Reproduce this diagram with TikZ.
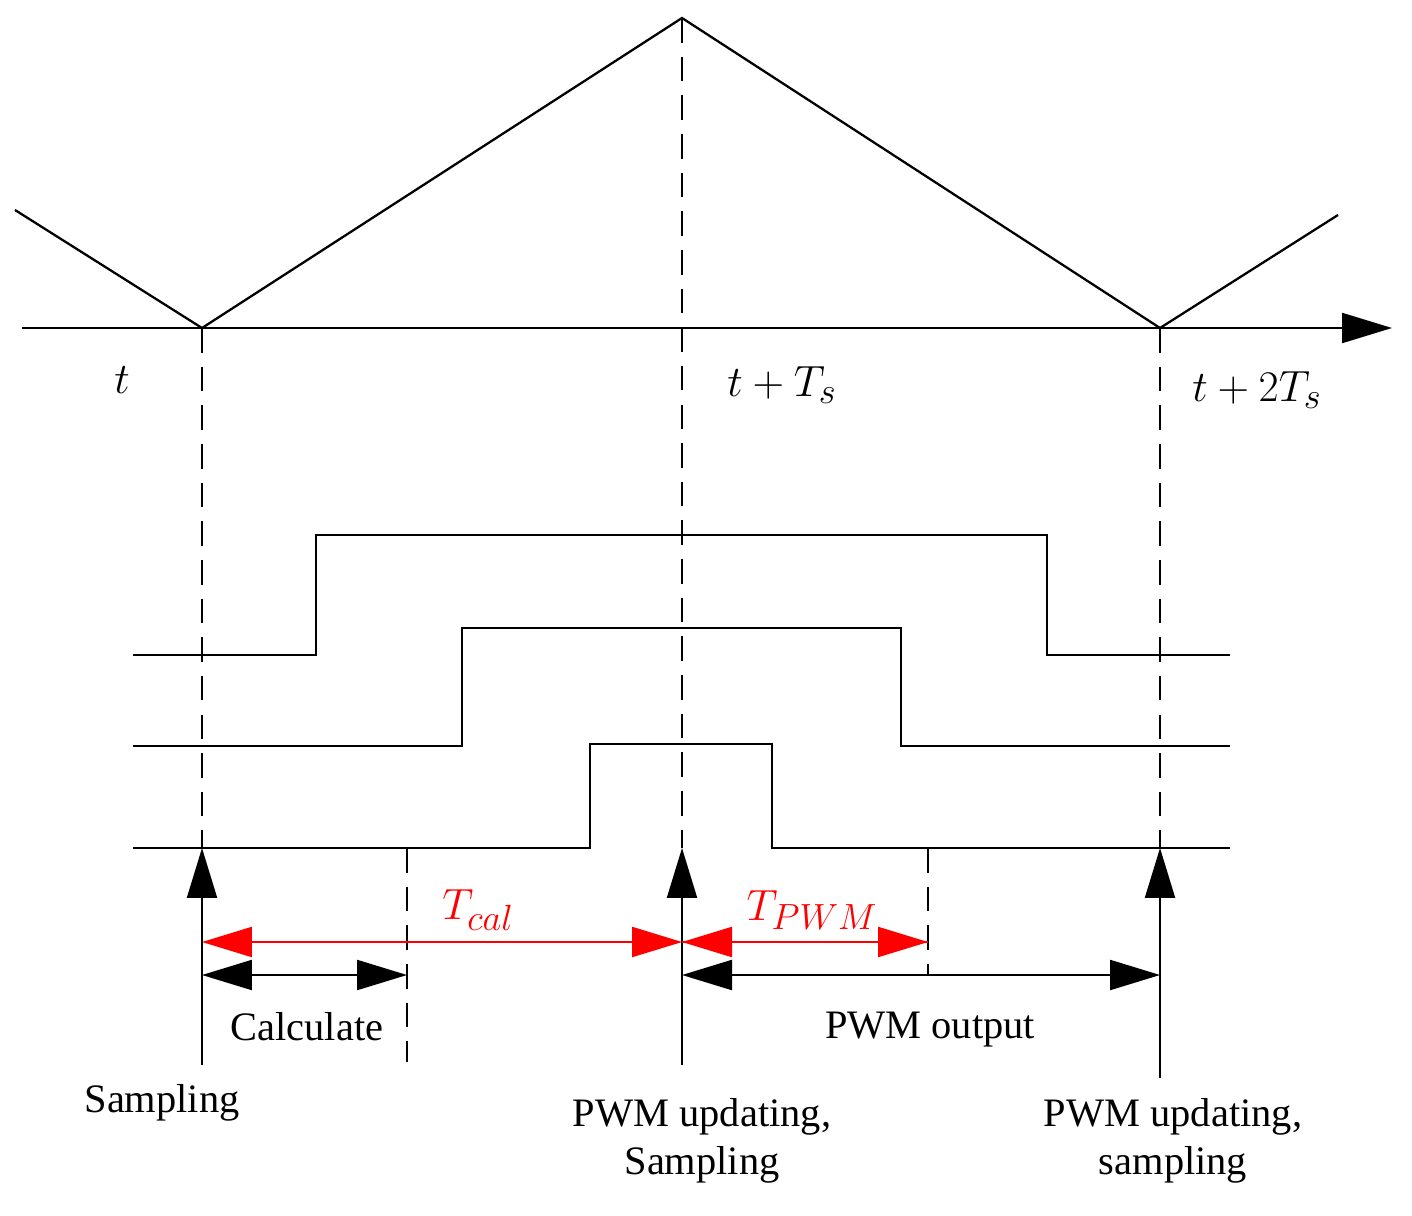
\documentclass[tikz,border=0pt]{standalone}
\usepackage{fontspec}
\setmainfont{Liberation Serif}
\usetikzlibrary{arrows.meta}
\begin{document}
\begin{tikzpicture}[x=0.02cm,y=-0.02cm,
  ln/.style={line width=1.3pt},
  dsh/.style={line width=1.1pt,dash pattern=on 14pt off 8pt},
  hd/.style={-{Triangle[length=1cm,width=0.6cm]}},
  hh/.style={{Triangle[length=1cm,width=0.6cm]}-{Triangle[length=1cm,width=0.6cm]}},
  lbl/.style={font=\fontsize{23}{27}\selectfont,align=center},
  mth/.style={font=\fontsize{28}{32}\selectfont}]
\useasboundingbox (0,0) rectangle (1412,1216);
% carrier
\coordinate (c0) at (15,210); \coordinate (c1) at (202,328); \coordinate (c2) at (682,18);
\coordinate (c3) at (1160,328); \coordinate (c4) at (1338,215);
\draw[ln] (c0)--(c1)--(c2)--(c3)--(c4);
\coordinate (a0) at (22,328); \coordinate (a1) at (1392,328);
\draw[ln,hd] (a0)--(a1);
% dashed
\coordinate (d1) at (202,848); \coordinate (d2) at (682,848); \coordinate (d3) at (1160,848);
\draw[dsh] (c1)--(d1); \draw[dsh] (c2)--(d2); \draw[dsh] (c3)--(d3);
\node[mth] (t0) at (122,380) {$t$};
\node[mth] (t1) at (782,385) {$t+T_s$};
\node[mth] (t2) at (1257,390) {$t+2T_s$};
% waveforms
\draw[ln] (133,655)--(316,655)--(316,535)--(1047,535)--(1047,655)--(1230,655);
\draw[ln] (133,746)--(462,746)--(462,628)--(901,628)--(901,746)--(1230,746);
\draw[ln] (133,848)--(590,848)--(590,744)--(772,744)--(772,848)--(1230,848);
% up arrows
\coordinate (u1) at (202,1065); \coordinate (u2) at (682,1065); \coordinate (u3) at (1160,1078);
\draw[ln,hd] (u1)--(d1); \draw[ln,hd] (u2)--(d2); \draw[ln,hd] (u3)--(d3);
\coordinate (e1) at (407,848); \coordinate (e1b) at (407,1062);
\coordinate (e2) at (928,848); \coordinate (e2b) at (928,975);
\draw[dsh] (e1)--(e1b); \draw[dsh] (e2)--(e2b);
% red arrows
\coordinate (r0) at (202,942); \coordinate (r1) at (682,942); \coordinate (r2) at (928,942);
\draw[ln,red,hh] (r0)--(r1);
\draw[ln,red,hd] (r1)--(r2);
\draw[ln,red,{Triangle[length=1cm,width=0.6cm]}-] (r1)--(r2);
\node[mth,red] (tc) at (478,910) {$T_{cal}$};
\node[mth,red] (tp) at (812,910) {$T_{PWM}$};
% black arrows
\coordinate (b0) at (202,975); \coordinate (b1) at (407,975);
\coordinate (b2) at (682,975); \coordinate (b3) at (1160,975);
\draw[ln,hh] (b0)--(b1); \draw[ln,hh] (b2)--(b3);
\node[lbl] (calc) at (307,1027) {Calculate};
\node[lbl] (pwmo) at (930,1030) {PWM output};
\node[lbl] (s1) at (162,1103) {Sampling};
\node[lbl] (s2) at (702,1141) {PWM updating,\\Sampling};
\node[lbl] (s3) at (1173,1141) {PWM updating,\\sampling};
\end{tikzpicture}
\end{document}
